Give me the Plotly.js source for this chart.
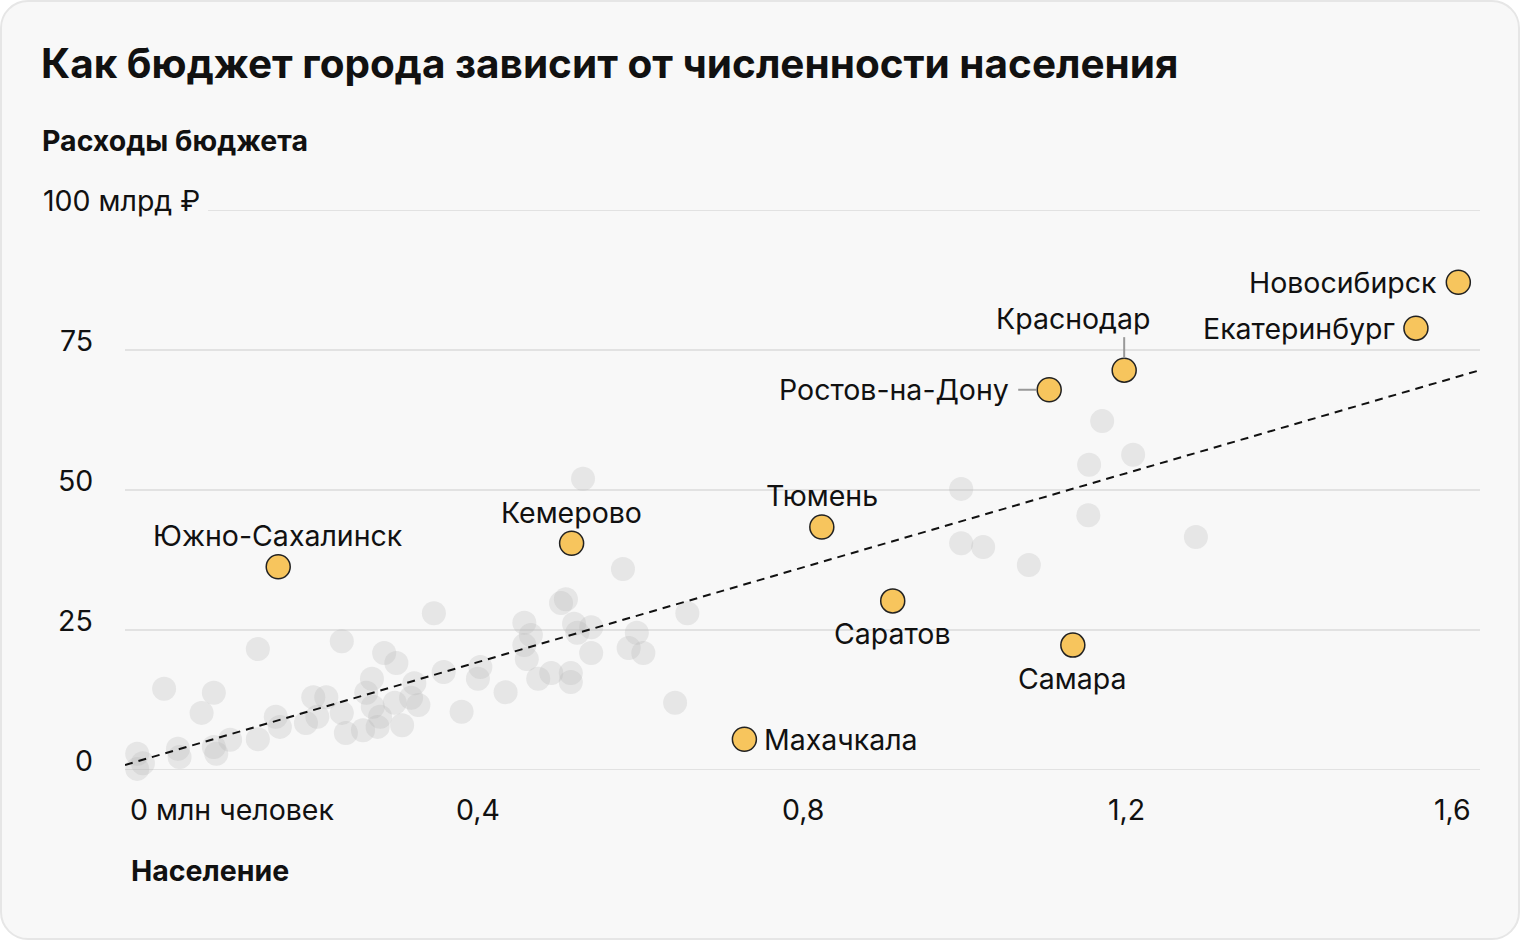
<!DOCTYPE html>
<html>
<head>
<meta charset="utf-8">
<script src="https://cdn.plot.ly/plotly-3.0.1.min.js"></script>
<style>
  html, body { margin: 0; padding: 0; background: #ffffff; }
  #card { position: absolute; left: 0; top: 0; width: 1520px; height: 940px; box-sizing: border-box;
          background: #f8f8f8; border: 2px solid #e6e6e6; border-radius: 28px; }
  #chart { position: absolute; left: 0; top: 0; width: 1520px; height: 940px; }
</style>
</head>
<body>
<div id="card"></div>
<div id="chart"></div>
<script>
// ---- Data ----
const titleText = 'Как бюджет города зависит от численности населения';
const yAxisTitle = 'Расходы бюджета';
const xAxisTitle = 'Население';

const xTickVals = [0, 0.4, 0.8, 1.2, 1.6];
const xTickText = ['0 млн человек', '0,4', '0,8', '1,2', '1,6'];
const yTickVals = [0, 25, 50, 75, 100];
const yTickText = ['0', '25', '50', '75', '100 млрд ₽'];

// other cities (population, mln; budget expenses, bn RUB)
const grayX = [0.015,0.022,0.015,0.048,0.065,0.067,0.094,0.109,0.109,0.112,0.129,0.163,0.163,0.185,0.190,
  0.222,0.231,0.236,0.247,0.266,0.266,0.271,0.292,0.296,0.303,0.304,0.310,0.313,0.318,0.333,0.331,0.340,
  0.351,0.355,0.360,0.379,0.391,0.413,0.433,0.436,0.467,0.490,0.498,0.490,0.493,0.507,0.523,0.535,0.541,
  0.547,0.547,0.551,0.555,0.562,0.572,0.572,0.611,0.618,0.628,0.636,0.675,0.690,1.026,1.026,1.053,1.109,
  1.182,1.183,1.199,1.237,1.314];
const grayY = [2.9,1.2,0.2,14.5,3.8,2.3,10.2,13.8,4.1,2.9,5.4,21.6,5.5,9.5,7.7,
  8.4,13.0,9.5,13.0,23.0,10.2,6.6,7.1,13.8,16.3,11.3,7.7,9.5,20.9,19.1,12.0,8.0,
  12.9,15.5,11.6,28.0,17.5,10.4,16.3,18.4,13.9,26.3,24.1,22.3,19.8,16.3,17.3,29.8,30.5,
  17.3,15.7,26.1,24.5,52.0,25.5,20.9,35.9,21.8,24.5,20.9,12.0,28.0,50.2,40.5,39.8,36.6,
  45.5,54.5,62.3,56.3,41.6];

// highlighted cities
const cityNames = ['Южно-Сахалинск','Кемерово','Тюмень','Махачкала','Саратов','Ростов-на-Дону','Самара','Краснодар','Екатеринбург','Новосибирск'];
const cityX = [0.188,0.548,0.855,0.760,0.942,1.134,1.163,1.226,1.584,1.636];
const cityY = [36.3,40.5,43.4,5.5,30.2,67.9,22.3,71.4,78.9,87.1];

// trend line
const trendX = [0, 1.6626];
const trendY = [0.9, 71.4];

// ---- Styling / layout ----
const FONT = 'Inter, "Noto Sans", sans-serif';
const TXT = 28.5;
const placement = {
  'Южно-Сахалинск': {pos: 'top'},
  'Кемерово': {pos: 'top'},
  'Тюмень': {pos: 'top'},
  'Махачкала': {pos: 'right'},
  'Саратов': {pos: 'bottom'},
  'Самара': {pos: 'bottom'},
  'Ростов-на-Дону': {pos: 'left', leader: 'h', gap: 38},
  'Краснодар': {pos: 'topleft', leader: 'v'},
  'Екатеринбург': {pos: 'left'},
  'Новосибирск': {pos: 'left'}
};

const traces = [
  {x: grayX, y: grayY, type: 'scatter', mode: 'markers', cliponaxis: false, hoverinfo: 'skip',
   marker: {size: 24, color: 'rgba(180,180,180,0.27)', line: {width: 0}}},
  {x: trendX, y: trendY, type: 'scatter', mode: 'lines', cliponaxis: false, hoverinfo: 'skip',
   line: {color: '#111', width: 2, dash: '8px,6px'}},
  {x: cityX, y: cityY, text: cityNames, type: 'scatter', mode: 'markers', cliponaxis: false,
   marker: {size: 24, color: '#f7c55d', line: {width: 1.5, color: '#222'}}}
];

const shapes = [];
const gridColor = '#e2e2e2';
yTickVals.forEach(v => {
  shapes.push({type: 'line', xref: 'paper', yref: 'y', x0: v === 100 ? 0.0613 : 0, x1: 1, y0: v, y1: v,
    line: {color: gridColor, width: 2}, layer: 'below'});
});
xTickVals.forEach(v => {
  shapes.push({type: 'line', xref: 'x', yref: 'y', x0: v, x1: v, ysizemode: 'pixel', yanchor: 0, y0: 0, y1: -52,
    line: {color: gridColor, width: 2}, layer: 'below'});
});

const annotations = [];
// y tick labels
yTickVals.forEach((v, i) => {
  if (v === 100) {
    annotations.push({xref: 'paper', yref: 'y', x: 0, y: v, xanchor: 'left', yanchor: 'middle',
      xshift: -84, yshift: 10, text: yTickText[i], showarrow: false, font: {family: FONT, size: TXT, color: '#111'}});
  } else {
    annotations.push({xref: 'paper', yref: 'y', x: 0, y: v, xanchor: 'right', yanchor: 'middle',
      xshift: -30, yshift: 10, text: yTickText[i], showarrow: false, font: {family: FONT, size: TXT, color: '#111'}});
  }
});
// axis titles
annotations.push({xref: 'paper', yref: 'paper', x: 0, y: 1, xanchor: 'left', yanchor: 'middle',
  xshift: -85, yshift: 70, text: '<b>' + yAxisTitle + '</b>', showarrow: false, font: {family: FONT, size: TXT, color: '#111'}});
annotations.push({xref: 'paper', yref: 'paper', x: 0, y: 0, xanchor: 'left', yanchor: 'middle',
  xshift: 4, yshift: -100, text: '<b>' + xAxisTitle + '</b>', showarrow: false, font: {family: FONT, size: TXT, color: '#111'}});

// city labels
cityNames.forEach((name, i) => {
  const p = placement[name];
  const a = {xref: 'x', yref: 'y', x: cityX[i], y: cityY[i], text: name, showarrow: false,
    font: {family: FONT, size: TXT, color: '#111'}};
  if (p.pos === 'top') { a.xanchor = 'center'; a.yanchor = 'middle'; a.yshift = 31; }
  else if (p.pos === 'bottom') { a.xanchor = 'center'; a.yanchor = 'middle'; a.yshift = -33; }
  else if (p.pos === 'right') { a.xanchor = 'left'; a.yanchor = 'middle'; a.xshift = 18; }
  else if (p.pos === 'left') { a.xanchor = 'right'; a.yanchor = 'middle'; a.xshift = -(p.gap || 19); }
  else if (p.pos === 'topleft') { a.xanchor = 'right'; a.yanchor = 'middle'; a.xshift = 28; a.yshift = 52; }
  annotations.push(a);
  if (p.leader === 'h') {
    shapes.push({type: 'line', xref: 'x', yref: 'y', xsizemode: 'pixel', ysizemode: 'pixel',
      xanchor: cityX[i], yanchor: cityY[i], x0: -31, x1: -13, y0: 0, y1: 0, line: {color: '#999', width: 2}});
  } else if (p.leader === 'v') {
    shapes.push({type: 'line', xref: 'x', yref: 'y', xsizemode: 'pixel', ysizemode: 'pixel',
      xanchor: cityX[i], yanchor: cityY[i], x0: 0, x1: 0, y0: 12, y1: 33, line: {color: '#999', width: 2}});
  }
});

const layout = {
  width: 1520, height: 940,
  paper_bgcolor: 'rgba(0,0,0,0)', plot_bgcolor: 'rgba(0,0,0,0)',
  margin: {l: 125, r: 40, t: 210, b: 170},
  showlegend: false,
  font: {family: FONT, color: '#111'},
  title: {text: '<b>' + titleText + '</b>', x: 41 / 1520, xanchor: 'left', xref: 'container',
    y: 1 - 64 / 940, yref: 'container', yanchor: 'middle', font: {family: FONT, size: 40.5, color: '#111'}},
  xaxis: {range: [0, 1.6626], showgrid: false, zeroline: false, showline: false, ticks: '',
    tickvals: xTickVals, ticktext: xTickText, ticklabelposition: 'outside right', ticklabelstandoff: 20,
    ticklabelshift: 5, tickfont: {family: FONT, size: TXT, color: '#111'}, fixedrange: true},
  yaxis: {range: [0, 100], showgrid: false, zeroline: false, showline: false, showticklabels: false,
    ticks: '', fixedrange: true},
  shapes: shapes,
  annotations: annotations
};

Plotly.newPlot('chart', traces, layout, {displayModeBar: false, staticPlot: true});
</script>
</body>
</html>
